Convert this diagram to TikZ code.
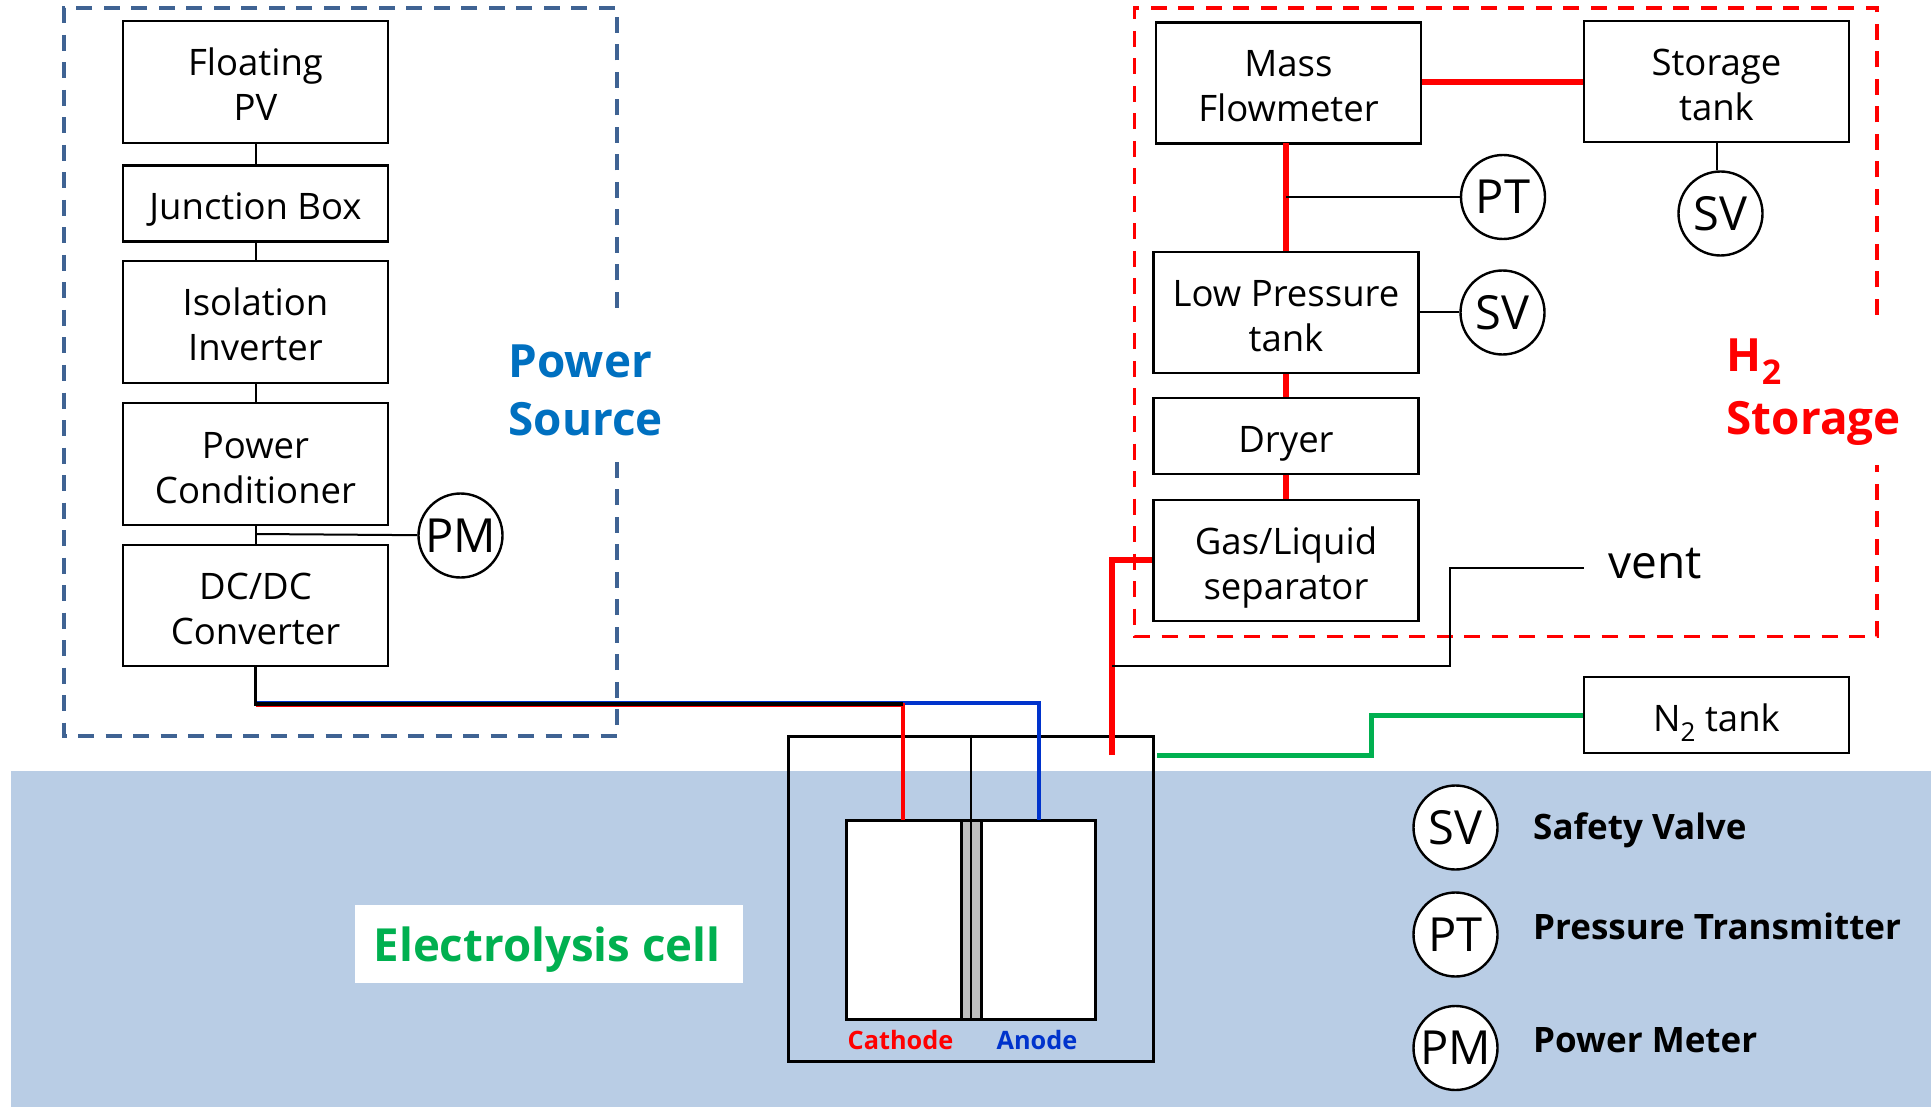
\documentclass[tikz,border=0pt]{standalone}
\usepackage{fontspec}
\setmainfont{Open Sans}
\newcommand{\subtwo}[1]{\raisebox{-0.28em}{\fontsize{#1}{#1}\selectfont 2}}
\definecolor{bgblue}{HTML}{B9CDE5}
\definecolor{psdash}{HTML}{3F6393}
\definecolor{pstext}{HTML}{0070C0}
\definecolor{h2red}{HTML}{FF0000}
\definecolor{anodeblue}{HTML}{0033CC}
\definecolor{celltext}{HTML}{00B050}
\definecolor{memgray}{HTML}{BFBFBF}
\tikzset{
  box/.style={draw=black,line width=2.6pt,fill=white,inner sep=0pt,align=center,text depth=0pt,font=\fontsize{36.5}{45}\selectfont},
  one line/.style={box,execute at begin node={\rule{0pt}{33pt}}},
  two line/.style={box,execute at begin node={\rule{0pt}{78pt}}},
  meter/.style={draw=black,line width=2.4pt,fill=white,circle,inner sep=0pt,minimum size=84pt,font=\fontsize{47}{47}\selectfont},
  thin link/.style={draw=black,line width=2pt},
  red pipe/.style={draw=h2red,line width=5.5pt},
  green pipe/.style={draw=celltext,line width=5pt},
  group dash/.style={line width=3.5pt,dash pattern=on 16pt off 11.5pt},
  head/.style={anchor=west,inner sep=0pt,font=\bfseries\fontsize{45.8}{46}\selectfont},
  legend text/.style={anchor=west,inner sep=0pt,font=\bfseries\fontsize{35}{35}\selectfont},
  pole/.style={inner sep=0pt,font=\bfseries\fontsize{25.3}{26}\selectfont},
}
\begin{document}
\begin{tikzpicture}[x=1pt,y=-1pt]
\useasboundingbox (0,0) rectangle (1931,1107);
\fill[white] (0,0) rectangle (1931,1107);
\fill[bgblue] (11,771) rectangle (1931,1107);

% group outlines
\draw[psdash,group dash] (617,308) -- (617,8) -- (64,8) -- (64,736) -- (617,736) -- (617,461);
\draw[h2red,group dash] (1877,315) -- (1877,8) -- (1134.5,8) -- (1134.5,636.5) -- (1877,636.5) -- (1877,465);

% left column
\node[two line,minimum width=265pt,minimum height=122pt] (pv) at (255.5,82) {Floating\\PV};
\node[one line,minimum width=265pt,minimum height=76pt] (jb) at (255.5,203.5) {Junction Box};
\node[two line,minimum width=265pt,minimum height=122pt] (iso) at (255.5,322) {Isolation\\Inverter};
\node[two line,minimum width=265pt,minimum height=122pt] (pc) at (255.5,464) {Power\\Conditioner};
\node[two line,minimum width=265pt,minimum height=121pt] (dc) at (255.5,605.5) {DC/DC\\Converter};
\node[meter] (pm) at (460.5,535.5) {PM};
\draw[thin link] (pv) -- (jb);
\draw[thin link] (jb) -- (iso);
\draw[thin link] (iso) -- (pc);
\draw[thin link] (pc) -- (dc);
\coordinate (pmtap) at (255.5,534);
\draw[thin link] (pmtap) -- (pm);

% right column
\node[two line,minimum width=265pt,minimum height=121pt] (mf) at (1288.5,83) {Mass\\Flowmeter};
\node[two line,minimum width=265pt,minimum height=121pt] (st) at (1716.5,81.5) {Storage\\tank};
\node[two line,minimum width=265pt,minimum height=121pt] (lp) at (1286,312.5) {Low Pressure\\tank};
\node[one line,minimum width=265pt,minimum height=76pt] (dr) at (1286,436) {Dryer};
\node[two line,minimum width=265pt,minimum height=121pt] (gl) at (1286,560.5) {Gas/Liquid\\separator};
\node[meter] (ptm) at (1503,197) {PT};
\node[meter] (svs) at (1720.5,213.5) {SV};
\node[meter] (svl) at (1502.5,312.5) {SV};
\draw[red pipe] (mf.east |- 0,82) -- (st.west |- 0,82);
\coordinate (mfout) at (1286,143.5);
\coordinate (ptap) at (1286,197);
\draw[red pipe] (mfout) -- (lp.north);
\draw[red pipe] (lp.south) -- (dr.north);
\draw[red pipe] (dr.south) -- (gl.north);
\draw[thin link] (ptap) -- (ptm);
\draw[thin link] (lp.east) -- (svl);
\coordinate (stout) at (1717,142);
\draw[thin link] (stout) -- (stout |- svs.north);

% electrolysis cell
\node[draw=black,line width=3pt,minimum width=365pt,minimum height=325pt,inner sep=0pt] (cell) at (970.5,898.5) {};
\node[draw=black,line width=3pt,fill=white,minimum width=249pt,minimum height=199pt,inner sep=0pt] (stack) at (970.5,919.5) {};
\node[draw=black,line width=3pt,fill=memgray,minimum width=20pt,minimum height=199pt,inner sep=0pt] (mem) at (971,919.5) {};
\draw[draw=black,line width=2.2pt] (mem.south |- cell.north) -- (mem.south);
\node[pole,text=h2red] (cat) at (900.5,1040.5) {Cathode};
\node[pole,text=anodeblue] (ano) at (1037,1040) {Anode};

% supply lines
\coordinate (catport) at (903,820);
\coordinate (anoport) at (1039,820);
\draw[anodeblue,line width=3.6pt] (dc.south |- 0,702.8) -- (1039,702.8) -- (anoport);
\draw[h2red,line width=3.6pt] (dc.south |- 0,705) -- (903,705) -- (catport);
\draw[black,line width=3.8pt] (dc.south) -- (dc.south |- 0,703.9) -- (903,703.9);

% gas outlet, vent, N2
\coordinate (h2out) at (1112,755);
\coordinate (venttap) at (1112,666);
\coordinate (n2in) at (1157,755);
\draw[red pipe] (h2out) -- (1112,560) -- (gl.west |- 0,560);
\node[one line,minimum width=265pt,minimum height=76pt] (n2) at (1716.5,715) {N\subtwo{26} tank};
\node[inner sep=0pt,font=\fontsize{46}{46}\selectfont] (vent) at (1655,564) {vent};
\coordinate (ventend) at (1584,567.5);
\draw[thin link] (venttap) -- (1449.5,666) -- (1449.5,567.5) -- (ventend);
\draw[green pipe] (n2in) -- (1371,755) -- (1371,715.5) -- (n2.west |- 0,715.5);

% headings
\node[head,text=pstext] (ps1) at (508.5,361) {Power};
\node[head,text=pstext] (ps2) at (508.5,419) {Source};
\node[head,text=h2red] (h1) at (1726.5,362) {H\subtwo{34}};
\node[head,text=h2red] (h2) at (1726.5,423) {Storage};
\node[fill=white,minimum width=388pt,minimum height=78pt,inner sep=0pt] (lblbg) at (548.5,944) {};
\node[inner sep=0pt,text=celltext,font=\bfseries\fontsize{45.6}{46}\selectfont] (lbl) at (547,950) {Electrolysis cell};

% legend
\node[meter] (lsv) at (1455.5,827.5) {SV};
\node[meter] (lpt) at (1455.5,934.5) {PT};
\node[meter] (lpm) at (1455.5,1048) {PM};
\node[legend text] (tsv) at (1533,830) {Safety Valve};
\node[legend text] (tpt) at (1533,926) {Pressure Transmitter};
\node[legend text] (tpm) at (1533,1040) {Power Meter};
\end{tikzpicture}
\end{document}
